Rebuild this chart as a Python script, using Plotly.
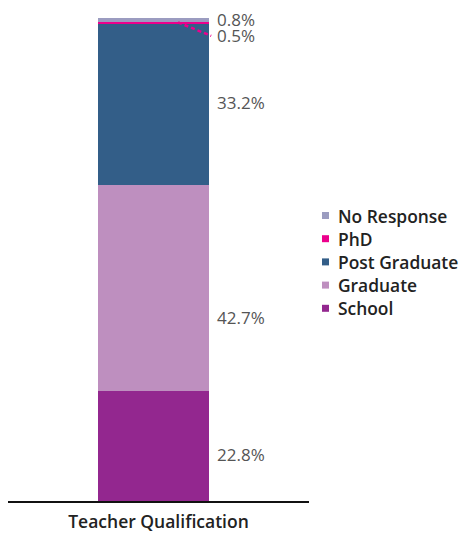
import plotly.graph_objects as go

# Qualification breakdown (percent of teachers)
categories = ["Teacher Qualification"]
series_names = ["School", "Graduate", "Post Graduate", "PhD", "No Response"]
series_values = [22.8, 42.7, 33.2, 0.5, 0.8]
series_colors = ["#93278f", "#be8fbf", "#335e88", "#ec008c", "#9b9cc0"]

# vertical spots for the value labels (data units)
label_y = [9.7, 37.9, 82.6, 96.3, 100.0]

BAR_W = 0.369
BAR_OFFSET = -0.201
W, H = 461, 533
ML, MR, MT, MB = 8, 152, 18, 32
PW = W - ML - MR
PH = H - MT - MB

fig = go.Figure()
for name, val, col in zip(series_names, series_values, series_colors):
    fig.add_trace(go.Bar(
        x=categories, y=[val], name=name,
        marker=dict(color=col, line=dict(width=0)),
        width=BAR_W, offset=BAR_OFFSET, showlegend=False,
        hovertemplate=f"{name}: %{{y}}%<extra></extra>",
    ))

bar_right = BAR_OFFSET + BAR_W
annotations = []
for val, ly in zip(series_values, label_y):
    annotations.append(dict(
        x=bar_right, y=ly, xref="x", yref="y", xanchor="left", yanchor="middle",
        xshift=6, yshift=-1 if ly >= 100 else 0, text=f"{val}%", showarrow=False,
        font=dict(family="Open Sans", size=17, color="#555555"),
    ))

# leader line from the thin PhD slice to its label
phd_idx = series_names.index("PhD")
phd_top = sum(series_values[:phd_idx + 1])
shapes = [dict(
    type="line", xref="x", yref="y",
    x0=bar_right - 0.103, y0=phd_top - 0.1, x1=bar_right + 0.007, y1=label_y[phd_idx],
    line=dict(color="#ec008c", width=2.5, dash="4px,3px"),
)]

# legend, top entry = last series
leg_x_sym = (322 - ML) / PW
leg_x_txt = (336 - ML) / PW
leg_top = 215.5
leg_step = 23.2
for i, (name, col) in enumerate(reversed(list(zip(series_names, series_colors)))):
    py = leg_top + i * leg_step
    yc = (H - MB - py) / PH
    half = 3.5 / PH
    shapes.append(dict(
        type="rect", xref="paper", yref="paper",
        x0=leg_x_sym, x1=leg_x_sym + 7 / PW, y0=yc - half, y1=yc + half,
        fillcolor=col, line=dict(width=0),
    ))
    annotations.append(dict(
        x=leg_x_txt, y=yc, xref="paper", yref="paper", xanchor="left", yanchor="middle",
        text=name, showarrow=False,
        font=dict(family="Open Sans", size=17.4, color="#222222", weight=600),
    ))

fig.update_layout(
    width=W, height=H,
    margin=dict(l=ML, r=MR, t=MT, b=MB, pad=0, autoexpand=False),
    barmode="stack", bargap=0,
    plot_bgcolor="white", paper_bgcolor="white",
    xaxis=dict(
        range=[-0.5, 0.5], showline=True, linecolor="#111111", linewidth=1.5,
        showgrid=False, zeroline=False, ticks="", ticklabelstandoff=4,
        automargin=False,
        tickfont=dict(family="Open Sans", size=17.5, color="#222222", weight=600),
    ),
    yaxis=dict(range=[0, 100], visible=False, automargin=False),
    annotations=annotations,
    shapes=shapes,
)

fig.write_html("out.html")
